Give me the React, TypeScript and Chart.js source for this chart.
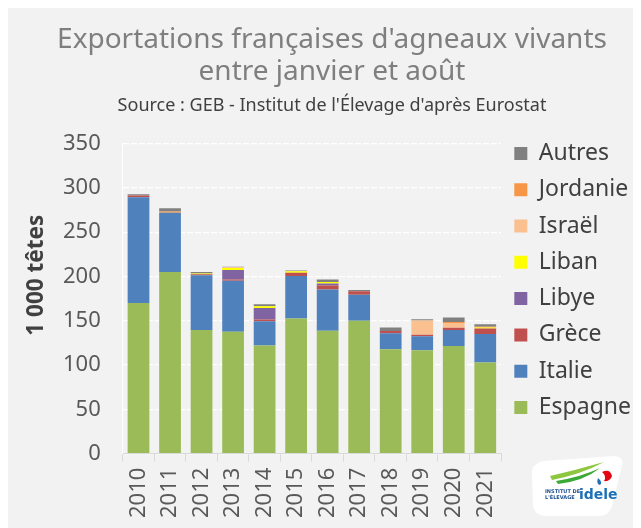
import React, { useEffect, useRef } from "react";
import { Chart, registerables } from "chart.js";

Chart.register(...registerables);

const years = ["2010", "2011", "2012", "2013", "2014", "2015", "2016", "2017", "2018", "2019", "2020", "2021"];
const espagne = [170, 205, 139.5, 137.6, 122, 152.5, 138.7, 150, 118, 116.6, 121.5, 102.8];
const italie = [119.4, 67, 62, 57.6, 27.4, 48, 46.5, 29.5, 18, 15.8, 18, 32.2];
const grece = [2, 0, 1, 1.5, 2, 3.8, 4.5, 3.7, 2.6, 1.9, 2.7, 6.4];
const libye = [0, 0, 0, 10.5, 13, 0, 2.5, 0, 0, 0, 0, 0];
const liban = [0, 0, 1, 2.3, 2, 1.5, 1.5, 0, 0, 0, 0, 1];
const israel = [0, 0, 0, 0.8, 0, 0, 0, 0, 0, 16, 5.2, 0];
const jordanie = [0, 1.5, 0, 0, 0, 0, 0, 0, 0, 0, 1.2, 1];
const autres = [1.5, 3.5, 1.5, 0.7, 2.3, 1, 3, 1.5, 3.8, 1.5, 5, 2.6];
const yTicks = [0, 50, 100, 150, 200, 250, 300, 350];

const titleLines = ["Exportations françaises d'agneaux vivants", "entre janvier et août"];
const subtitleText = "Source : GEB - Institut de l'Élevage d'après Eurostat";
const yTitle = "\u00a0\u00a0\u00a0\u00a0\u00a0\u00a0\u00a0\u00a01 000 têtes";

const FONT = "'Noto Sans', 'DejaVu Sans', sans-serif";

const legendShift = {
  id: "legendShift",
  afterLayout(chart: any) {
    const l = chart.legend;
    if (l) {
      l.top -= 15;
      l.bottom -= 15;
    }
  },
};

export default function App() {
  const ref = useRef<HTMLCanvasElement | null>(null);

  useEffect(() => {
    if (!ref.current) return;
    const mk = (label: string, data: number[], color: string) => ({
      label,
      data,
      backgroundColor: color,
      borderWidth: 0,
      barPercentage: 0.69,
      categoryPercentage: 1,
    });
    const chart = new Chart(ref.current, {
      type: "bar",
      data: {
        labels: years,
        datasets: [
          mk("Espagne", espagne, "#9BBB59"),
          mk("Italie", italie, "#4F81BD"),
          mk("Grèce", grece, "#C0504D"),
          mk("Libye", libye, "#8064A2"),
          mk("Liban", liban, "#FFFF00"),
          mk("Israël", israel, "#FAC090"),
          mk("Jordanie", jordanie, "#F79646"),
          mk("Autres", autres, "#808080"),
        ],
      },
      plugins: [legendShift],
      options: {
        responsive: false,
        animation: false,
        layout: { padding: { left: 15, right: 0, top: 0, bottom: 4 } },
        plugins: {
          title: {
            display: true,
            text: titleLines,
            color: "#7f7f7f",
            font: { family: FONT, size: 28, weight: "normal", lineHeight: 1.143 },
            padding: { top: 16, bottom: 7 },
          },
          subtitle: {
            display: true,
            text: subtitleText,
            color: "#404040",
            font: { family: FONT, size: 18, weight: "normal", lineHeight: 1.2 },
            padding: { top: 0, bottom: 27 },
          },
          legend: {
            position: "right",
            align: "start",
            fullSize: false,
            reverse: true,
            labels: {
              boxWidth: 13,
              boxHeight: 13,
              padding: 13.3,
              color: "#404040",
              font: { family: FONT, size: 23 },
            },
          },
          tooltip: { enabled: false },
        },
        scales: {
          x: {
            stacked: true,
            grid: { display: true, drawOnChartArea: false, drawTicks: true, tickLength: 8, color: "#d9d9d9", offset: true },
            border: { color: "#d9d9d9" },
            ticks: {
              autoSkip: false,
              minRotation: 90,
              maxRotation: 90,
              color: "#595959",
              font: { family: FONT, size: 22 },
              padding: 6,
            },
          },
          y: {
            stacked: true,
            min: 0,
            max: 350,
            afterBuildTicks: (axis: any) => {
              axis.ticks = yTicks.map((v) => ({ value: v }));
            },
            grid: { color: "#ffffff", lineWidth: 1.2, drawTicks: false },
            border: { display: true, color: "#ffffff", dash: [6, 2] },
            ticks: { color: "#595959", font: { family: FONT, size: 22 }, padding: 22 },
            title: {
              display: true,
              text: yTitle,
              color: "#404040",
              font: { family: FONT, size: 22.5, weight: "bold", lineHeight: 1.2 },
              padding: { top: 0, bottom: -9 },
            },
          },
        },
      } as any,
    });
    return () => chart.destroy();
  }, []);

  return (
    <div style={{ position: "relative", width: 633, height: 520, background: "#f2f2f2" }}>
      <canvas ref={ref} width={633} height={520} style={{ display: "block" }} />
      <svg
        width={100}
        height={66}
        viewBox="0 0 100 66"
        style={{ position: "absolute", left: 518, top: 446 }}
      >
        <path d="M6 22 Q4 10 18 7 L88 2 Q98 2 96 12 L86 52 Q83 62 72 62 L20 62 Q8 62 7 50 Z" fill="#ffffff" />
        <path d="M24 22 Q50 16 78 8 Q56 20 26 26 Z" fill="#8dc63f" />
        <path d="M30 27 Q55 23 74 14 Q58 27 32 30 Z" fill="#3aa935" />
        <path d="M76 18 Q84 14 86 22 Q84 28 78 27 Q81 22 76 18 Z" fill="#e30613" />
        <path d="M72 24 Q70 30 74 31 Q77 28 72 24 Z" fill="#1d70b7" />
        <text x={19} y={39} fontSize={5} fontFamily="'DejaVu Sans', sans-serif" fontWeight="bold" fill="#1d4f91">INSTITUT DE</text>
        <text x={19} y={45} fontSize={5} fontFamily="'DejaVu Sans', sans-serif" fontWeight="bold" fill="#1d4f91">L'ÉLEVAGE</text>
        <text x={53} y={45} fontSize={14} fontFamily="'DejaVu Sans', sans-serif" fontWeight="bold" fill="#1d70b7">idele</text>
      </svg>
    </div>
  );
}
